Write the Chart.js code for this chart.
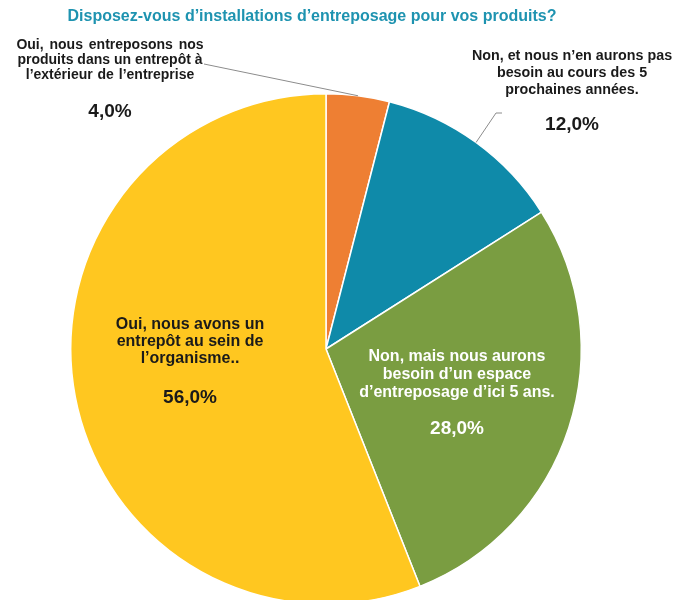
<!DOCTYPE html>
<html>
<head>
<meta charset="utf-8">
<script src="https://cdn.jsdelivr.net/npm/chart.js@4/dist/chart.umd.min.js"></script>
<style>
  html, body { margin: 0; padding: 0; background: #fff; overflow: hidden; }
  #wrap { width: 687px; height: 600px; overflow: hidden; position: relative; }
  canvas { display: block; }
</style>
</head>
<body>
<div id="wrap"><canvas id="c" width="687" height="700"></canvas></div>
<script>
// Survey answers, clockwise from 12 o'clock
const categories = [
  ["Oui, nous entreposons nos", "produits dans un entrepôt à", "l’extérieur de l’entreprise"],
  ["Non, et nous n’en aurons pas", "besoin au cours des 5", "prochaines années."],
  ["Non, mais nous aurons", "besoin d’un espace", "d’entreposage d’ici 5 ans."],
  ["Oui, nous avons un", "entrepôt au sein de", "l’organisme.."]
];
const shares = [4.0, 12.0, 28.0, 56.0];
const percentLabels = ["4,0%", "12,0%", "28,0%", "56,0%"];
const sliceColors = ["#EE7F33", "#0F8AA9", "#7A9D41", "#FFC720"];
const titleText = "Disposez-vous d’installations d’entreposage pour vos produits?";

// Where each label block sits (centre x, first line y, percent y) and its text style
const labelLayout = [
  { x: 110, y: 45, py: 112, lh: 15, size: 14, ws: [2, 0, 1], color: "#1a1a1a", leader: [[204, 64]] },
  { x: 572, y: 56, py: 125, lh: 17, size: 14.3, ws: [0, 0, 0], color: "#1a1a1a", leader: [[502, 113], [496, 113]] },
  { x: 457, y: 357, py: 429, lh: 18, size: 16, ws: [0, 0, 0], color: "#ffffff" },
  { x: 190, y: 325, py: 398, lh: 17, size: 16, ws: [0, 0, 0], color: "#1a1a1a" }
];

const FONT = "'Liberation Sans', Arial, Helvetica, sans-serif";

const labelsPlugin = {
  id: "sliceLabels",
  afterDraw(chart) {
    const ctx = chart.ctx;
    const meta = chart.getDatasetMeta(0);
    ctx.save();
    // Title
    ctx.font = "bold 16px " + FONT;
    ctx.fillStyle = "#1E93B0";
    ctx.textAlign = "center";
    ctx.textBaseline = "middle";
    ctx.fillText(titleText, 312, 17);

    meta.data.forEach((arc, i) => {
      const L = labelLayout[i];
      // leader line from outer edge of slice (mid angle) to the label
      if (L.leader) {
        const p = arc.getProps(["x", "y", "startAngle", "endAngle", "outerRadius"], true);
        const mid = (p.startAngle + p.endAngle) / 2;
        const ex = p.x + Math.cos(mid) * p.outerRadius;
        const ey = p.y + Math.sin(mid) * p.outerRadius;
        ctx.beginPath();
        ctx.moveTo(ex, ey);
        L.leader.slice().reverse().forEach(pt => ctx.lineTo(pt[0], pt[1]));
        ctx.strokeStyle = "#8c8c8c";
        ctx.lineWidth = 1;
        ctx.stroke();
      }
      ctx.fillStyle = L.color;
      ctx.textAlign = "center";
      ctx.textBaseline = "middle";
      ctx.font = "bold " + L.size + "px " + FONT;
      categories[i].forEach((line, k) => {
        ctx.wordSpacing = L.ws[k] + "px";
        ctx.fillText(line, L.x, L.y + k * L.lh);
      });
      ctx.wordSpacing = "0px";
      ctx.font = "bold 19px " + FONT;
      ctx.fillText(percentLabels[i], L.x, L.py);
    });
    ctx.restore();
  }
};

new Chart(document.getElementById("c"), {
  type: "pie",
  data: {
    labels: categories.map(c => c.join(" ")),
    datasets: [{
      data: shares,
      backgroundColor: sliceColors,
      borderColor: "#ffffff",
      borderWidth: 1.5
    }]
  },
  options: {
    responsive: false,
    animation: false,
    events: [],
    layout: { padding: { left: 70, right: 105, top: 93, bottom: 95 } },
    plugins: {
      legend: { display: false },
      tooltip: { enabled: false },
      title: { display: false }
    }
  },
  plugins: [labelsPlugin]
});
</script>
</body>
</html>
